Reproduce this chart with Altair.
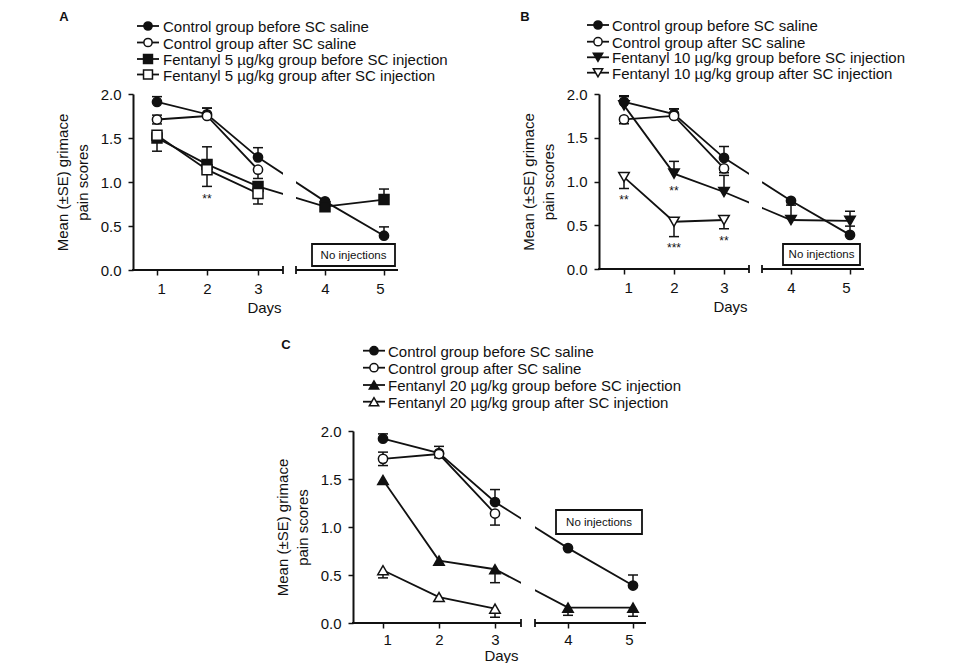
import altair as alt
import pandas as pd

DAYS = [1, 2, 3, 4, 5]

# ---------------- Panel A ----------------
NAMES_A = ["Control group before SC saline", "Control group after SC saline",
           "Fentanyl 5 µg/kg group before SC injection", "Fentanyl 5 µg/kg group after SC injection"]
SHAPES_A = ["circle", "circle", "square", "square"]
FILLED = [True, False, True, False]
MEANS_A = [
    [1.91, 1.77, 1.28, 0.78, 0.39],
    [1.71, 1.75, 1.14, None, None],
    [1.50, 1.20, 0.95, 0.72, 0.80],
    [1.53, 1.14, 0.87, None, None],
]
SE_A = [
    [0.06, 0.07, 0.11, 0.0, 0.10],
    [0.05, 0.09, 0.10, None, None],
    [0.15, 0.20, 0.05, 0.04, 0.12],
    [0.04, 0.19, 0.12, None, None],
]
DIR_A = [
    ["u", "u", "u", "u", "u"],
    ["b", "u", "d", None, None],
    ["d", "u", "u", "d", "u"],
    ["u", "d", "d", None, None],
]
STAR_DAY_A = [2]
STAR_VAL_A = [0.84]
STAR_TXT_A = ["**"]

# ---------------- Panel B ----------------
NAMES_B = ["Control group before SC saline", "Control group after SC saline",
           "Fentanyl 10 µg/kg group before SC injection", "Fentanyl 10 µg/kg group after SC injection"]
SHAPES_B = ["circle", "circle", "triangle-down", "triangle-down"]
MEANS_B = [
    [1.91, 1.77, 1.27, 0.78, 0.39],
    [1.71, 1.75, 1.15, None, None],
    [1.87, 1.09, 0.88, 0.56, 0.55],
    [1.05, 0.54, 0.56, None, None],
]
SE_B = [
    [0.07, 0.06, 0.13, 0.0, 0.10],
    [0.05, 0.08, 0.05, None, None],
    [0.10, 0.14, 0.19, 0.17, 0.11],
    [0.13, 0.17, 0.10, None, None],
]
DIR_B = [
    ["u", "u", "u", "u", "u"],
    ["d", "u", "d", None, None],
    ["u", "u", "u", "u", "u"],
    ["d", "d", "d", None, None],
]
STAR_DAY_B = [1, 2, 2, 3]
STAR_VAL_B = [0.82, 0.93, 0.28, 0.36]
STAR_TXT_B = ["**", "**", "***", "**"]

# ---------------- Panel C ----------------
NAMES_C = ["Control group before SC saline", "Control group after SC saline",
           "Fentanyl 20 µg/kg group before SC injection", "Fentanyl 20 µg/kg group after SC injection"]
SHAPES_C = ["circle", "circle", "triangle-up", "triangle-up"]
MEANS_C = [
    [1.92, 1.77, 1.26, 0.78, 0.39],
    [1.71, 1.76, 1.14, None, None],
    [1.49, 0.65, 0.56, 0.16, 0.16],
    [0.55, 0.27, 0.15, None, None],
]
SE_C = [
    [0.05, 0.07, 0.13, 0.0, 0.11],
    [0.07, 0.04, 0.12, None, None],
    [0.0, 0.0, 0.14, 0.08, 0.09],
    [0.08, 0.0, 0.09, None, None],
]
DIR_C = [
    ["u", "u", "u", "u", "u"],
    ["b", "d", "d", None, None],
    ["d", "d", "d", "d", "d"],
    ["d", "d", "d", None, None],
]

Y_TICKS = [0, 0.5, 1.0, 1.5, 2.0]

BLACK = "#111111"
FONT = "Liberation Sans"
SIZES = {"circle": 85, "square": 100, "triangle-down": 110, "triangle-up": 110}


def one():
    return alt.Chart(pd.DataFrame({"k": [0]}))


def build_panel(letter, names, shapes, means, ses, dirs, stars, g):
    W, H, ox = g["W"], g["H"], g["ox"]
    xs = alt.Scale(domain=DAYS, range=[ox + r for r in g["xr"]], nice=False, zero=False)
    ys = alt.Scale(domain=[0, 2], nice=False, zero=False)
    xaxis = alt.Axis(values=DAYS, format="d", domain=False, grid=False, tickSize=5, tickWidth=1.5,
                     tickColor=BLACK, labelFontSize=15, labelFont=FONT, labelColor=BLACK,
                     labelPadding=g["xlp"], title="Days", titleFontSize=15, titleFont=FONT,
                     titleFontWeight="normal", titleColor=BLACK, titlePadding=g["xtp"],
                     titleX=ox + g["title_x"], zindex=1)
    yaxis = alt.Axis(values=Y_TICKS, format=".1f", domain=True, domainWidth=2, domainColor=BLACK,
                     grid=False, tickSize=5, tickWidth=1.5, tickColor=BLACK, labelFontSize=15,
                     labelFont=FONT, labelColor=BLACK, labelPadding=7, offset=-ox, zindex=1,
                     title=["Mean (±SE) grimace", "pain scores"], titleFontSize=15, titleFont=FONT,
                     titleFontWeight="normal", titleColor=BLACK, titleLineHeight=20, titlePadding=10)
    X = alt.X("day:Q", scale=xs, axis=xaxis)
    Y = alt.Y("val:Q", scale=ys, axis=yaxis)
    YE = alt.Y("end:Q", scale=ys, axis=yaxis)

    def px(v):
        return alt.value(ox + v)

    layers = []
    # invisible layout anchors
    for ax, ay in g["anchors"]:
        layers.append(one().mark_point(size=1, opacity=0, filled=True).encode(
            x=px(ax), y=alt.value(ay)))

    frames = []
    for i in range(4):
        rows = []
        for d, m, s, dr in zip(DAYS, means[i], ses[i], dirs[i]):
            if m is None:
                continue
            rows.append({"day": d, "val": m, "se": s, "dir": dr})
        frames.append(pd.DataFrame(rows))

    # lines
    for df in frames:
        layers.append(alt.Chart(df).mark_line(color=BLACK, strokeWidth=1.8).encode(x=X, y=Y))

    # mask for broken axis
    b0, b1 = g["brk"]
    layers.append(one().mark_rect(color="white").encode(
        x=px(b0), x2=px(b1), y=alt.value(-5), y2=alt.value(H - 2)))

    # error bars
    for df in frames:
        eb = []
        for _, r in df.iterrows():
            if r["se"] == 0:
                continue
            if r["dir"] in ("u", "b"):
                eb.append({"day": r["day"], "val": r["val"], "end": r["val"] + r["se"]})
            if r["dir"] in ("d", "b"):
                eb.append({"day": r["day"], "val": r["val"], "end": r["val"] - r["se"]})
        if not eb:
            continue
        edf = pd.DataFrame(eb)
        layers.append(alt.Chart(edf).mark_rule(color=BLACK, strokeWidth=1.5).encode(
            x=X, y=Y, y2="end:Q"))
        layers.append(alt.Chart(edf).mark_tick(orient="horizontal", size=10, thickness=1.5,
                                               color=BLACK, opacity=1).encode(x=X, y=YE))

    # points
    for i, df in enumerate(frames):
        sh = shapes[i]
        layers.append(alt.Chart(df).mark_point(
            shape=sh, size=SIZES[sh], filled=True, fill=BLACK if FILLED[i] else "white",
            stroke=BLACK, strokeWidth=1.5, opacity=1).encode(x=X, y=Y))

    # significance stars
    if stars is not None:
        sdf = pd.DataFrame({"day": stars[0], "val": stars[1], "txt": stars[2]})
        layers.append(alt.Chart(sdf).mark_text(fontSize=12, font=FONT, color=BLACK, dy=3,
                                               baseline="middle").encode(x=X, y=Y, text="txt:N"))

    # No injections box
    bx0, bx1, by0, by1 = g["box"]
    layers.append(one().mark_rect(fill="white", stroke=BLACK, strokeWidth=1.8).encode(
        x=px(bx0), x2=px(bx1), y=alt.value(by0), y2=alt.value(by1)))
    layers.append(one().mark_text(text="No injections", fontSize=11.5, font=FONT, color=BLACK,
                                  align="center", baseline="middle").encode(
        x=px((bx0 + bx1) / 2), y=alt.value((by0 + by1) / 2 + 0.5)))

    # broken x axis line
    layers.append(one().mark_rule(color=BLACK, strokeWidth=2).encode(
        x=px(-1), x2=px(b0), y=alt.value(H)))
    layers.append(one().mark_rule(color=BLACK, strokeWidth=2).encode(
        x=px(b1), x2=px(W), y=alt.value(H)))
    for bx in (b0, b1):
        layers.append(one().mark_rule(color=BLACK, strokeWidth=1.8).encode(
            x=px(bx), y=alt.value(H - 4), y2=alt.value(H + 4)))

    # legend
    sx, tx = g["leg_sym"], g["leg_txt"]
    for i, ly in enumerate(g["leg_y"]):
        sh = shapes[i]
        layers.append(one().mark_rule(color=BLACK, strokeWidth=1.8).encode(
            x=px(sx - 11), x2=px(sx + 11), y=alt.value(ly)))
        layers.append(one().mark_point(
            shape=sh, size=SIZES[sh] * 0.8, filled=True, fill=BLACK if FILLED[i] else "white",
            stroke=BLACK, strokeWidth=1.5, opacity=1).encode(x=px(sx), y=alt.value(ly)))
        layers.append(one().mark_text(text=names[i], fontSize=15, font=FONT, color=BLACK,
                                      align="left", baseline="middle").encode(
            x=px(tx), y=alt.value(ly + 1)))

    # panel letter
    lx, lyy = g["lab"]
    layers.append(one().mark_text(text=letter, fontSize=13, font=FONT, fontWeight="bold",
                                  color=BLACK, align="center", baseline="top").encode(
        x=px(lx), y=alt.value(lyy)))

    return alt.layer(*layers).properties(width=ox + W, height=H)


GEOM_A = dict(ox=0, W=265, H=176, xr=[24, 74, 125, 192, 251], brk=(150, 163), box=(179, 262, 150, 172),
              leg_sym=15, leg_txt=30, leg_y=[-68, -51.5, -35, -19.5], lab=(-69, -83), title_x=131,
              xlp=6, xtp=4, anchors=[(-124, -85), (348, 227)])
GEOM_B = dict(ox=0, W=265, H=175, xr=[25, 75, 125, 192, 251], brk=(150, 163), box=(184, 261, 150, 171),
              leg_sym=-1, leg_txt=13, leg_y=[-69, -52.3, -36.7, -21.3], lab=(-74, -83), title_x=131,
              xlp=6, xtp=4, anchors=[(-97, -85)])
GEOM_C = dict(ox=220, W=293, H=192, xr=[30, 86, 142, 215, 280], brk=(168, 182), box=(203, 289, 79, 103),
              leg_sym=21, leg_txt=35, leg_y=[-80.3, -63.3, -46, -29.3], lab=(-67, -92), title_x=148,
              xlp=4, xtp=1, anchors=[(0, -101)])

pA = build_panel("A", NAMES_A, SHAPES_A, MEANS_A, SE_A, DIR_A,
                 (STAR_DAY_A, STAR_VAL_A, STAR_TXT_A), GEOM_A)
pB = build_panel("B", NAMES_B, SHAPES_B, MEANS_B, SE_B, DIR_B,
                 (STAR_DAY_B, STAR_VAL_B, STAR_TXT_B), GEOM_B)
pC = build_panel("C", NAMES_C, SHAPES_C, MEANS_C, SE_C, DIR_C, None, GEOM_C)

row1 = alt.hconcat(pA, pB, spacing=19)
chart = alt.vconcat(row1, pC, spacing=7).properties(
    padding={"left": 0, "top": 0, "right": 0, "bottom": 0},
    background="white",
).configure_view(stroke="transparent", strokeWidth=0)

chart.save("out.html", embed_options={"renderer": "svg", "actions": False})
